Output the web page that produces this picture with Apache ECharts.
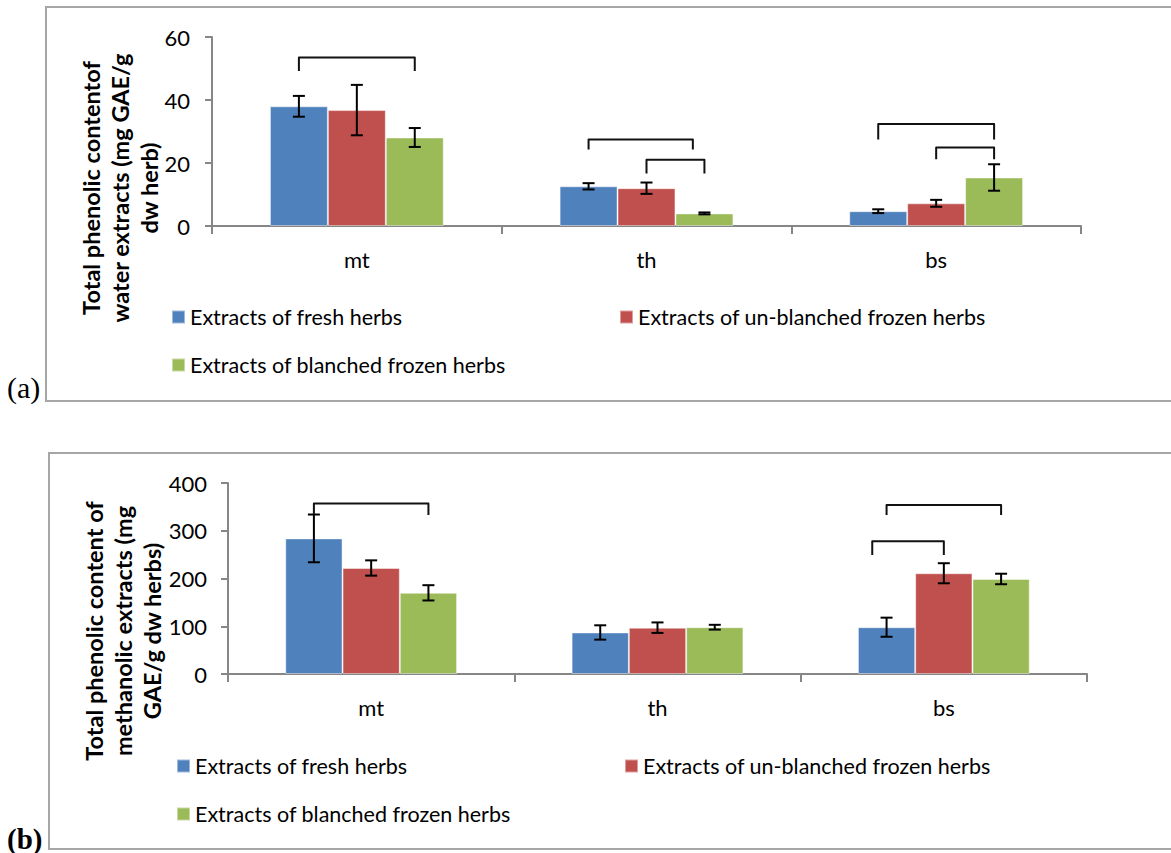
<!DOCTYPE html>
<html><head><meta charset="utf-8">
<script src="https://cdn.jsdelivr.net/npm/echarts@6/dist/echarts.min.js"></script>
<style>html,body{margin:0;padding:0;background:#fff}#c{width:1171px;height:853px}</style>
</head><body><div id="c"></div>
<script>
// ---------- data ----------
const categories = ['mt', 'th', 'bs'];
const seriesNames = ['Extracts of fresh herbs', 'Extracts of un-blanched frozen herbs', 'Extracts of blanched frozen herbs'];
const waterTicks = [0, 20, 40, 60];
const methTicks = [0, 100, 200, 300, 400];

// (a) water extracts
const waterFresh = [38.0, 12.6, 4.7];
const waterUnblanched = [36.8, 12.0, 7.2];
const waterBlanched = [28.1, 4.0, 15.4];
const waterFreshErr = [3.3, 1.0, 0.6];
const waterUnblanchedErr = [8.0, 1.8, 1.1];
const waterBlanchedErr = [3.0, 0.3, 4.2];
// significance brackets: [category, from slot, to slot, top value, left leg end, right leg end]
const waterBrackets = [[0, 0, 2, 53.5, 49.2, 49.2], [1, 0, 1.8, 27.5, 24.3, 24.3], [1, 1, 2, 21.0, 16.7, 16.7], [2, 0, 2, 32.4, 27.5, 27.5], [2, 1, 2, 24.9, 21.2, 21.2]];

// (b) methanolic extracts
const methFresh = [284, 87, 98];
const methUnblanched = [222, 97, 211];
const methBlanched = [170, 98, 199];
const methFreshErr = [50, 15, 20];
const methUnblanchedErr = [16, 11, 21];
const methBlanchedErr = [16, 5, 11];
const methBrackets = [[0, 0, 2, 357, 335, 333], [2, 0, 2, 354, 333, 333], [2, -0.25, 1, 278, 249, 249]];

// ---------- chart ----------
const colors = ['#4F81BD', '#C0504D', '#9BBB59'];
const FONT = 'Lato, "Open Sans", sans-serif';
const SLOTS = 3, CATGAP = 0.4;

function slotX(api, cat, slot) {
  const c = api.coord([cat, 0])[0];
  const band = api.coord([1, 0])[0] - api.coord([0, 0])[0];
  const bw = band * (1 - CATGAP) / SLOTS;
  return c + (slot - (SLOTS - 1) / 2) * bw;
}
function errRender(params, api) {
  const x = slotX(api, api.value(0), api.value(1));
  const y1 = api.coord([api.value(0), api.value(2)])[1];
  const y2 = api.coord([api.value(0), api.value(3)])[1];
  const st = { stroke: '#000', lineWidth: 2 };
  return { type: 'group', children: [
    { type: 'line', shape: { x1: x, y1: y1, x2: x, y2: y2 }, style: st },
    { type: 'line', shape: { x1: x - 6, y1: y1, x2: x + 6, y2: y1 }, style: st },
    { type: 'line', shape: { x1: x - 6, y1: y2, x2: x + 6, y2: y2 }, style: st }
  ] };
}
function bracketRender(params, api) {
  const cat = api.value(0);
  const x1 = slotX(api, cat, api.value(1)), x2 = slotX(api, cat, api.value(2));
  const yt = api.coord([cat, api.value(3)])[1];
  const yl = api.coord([cat, api.value(4)])[1];
  const yr = api.coord([cat, api.value(5)])[1];
  return { type: 'polyline', shape: { points: [[x1, yl], [x1, yt], [x2, yt], [x2, yr]] },
    style: { stroke: '#111', lineWidth: 2, fill: null, lineJoin: 'round' } };
}
function errData(vals, errs) {
  const out = [];
  vals.forEach((arr, s) => arr.forEach((v, i) => out.push([i, s, v - errs[s][i], v + errs[s][i]])));
  return out;
}

const panels = [
  { vals: [waterFresh, waterUnblanched, waterBlanched], errs: [waterFreshErr, waterUnblanchedErr, waterBlanchedErr], brackets: waterBrackets, ticks: waterTicks, ym: 22 },
  { vals: [methFresh, methUnblanched, methBlanched], errs: [methFreshErr, methUnblanchedErr, methBlanchedErr], brackets: methBrackets, ticks: methTicks, ym: 21 }
];

const grids = [
  { left: 212, top: 37, width: 869, height: 189 },
  { left: 228, top: 483, width: 859, height: 191 }
];
const xAxes = [], yAxes = [], series = [];
panels.forEach((p, k) => {
  xAxes.push({ type: 'category', gridIndex: k, data: categories,
    axisLine: { lineStyle: { color: '#868686', width: 2 } },
    axisTick: { show: true, length: 8, lineStyle: { color: '#868686', width: 2 } },
    axisLabel: { color: '#000', fontSize: 22, fontFamily: FONT, margin: 22 } });
  const t = p.ticks;
  yAxes.push({ type: 'value', gridIndex: k, min: t[0], max: t[t.length - 1], interval: t[1] - t[0],
    splitLine: { show: false },
    axisLine: { show: true, lineStyle: { color: '#868686', width: 2 } },
    axisTick: { show: true, length: 7, lineStyle: { color: '#868686', width: 2 } },
    axisLabel: { color: '#000', fontSize: 22, fontFamily: FONT, margin: p.ym } });
  p.vals.forEach((v, s) => series.push({ type: 'bar', name: seriesNames[s], xAxisIndex: k, yAxisIndex: k,
    data: v, barGap: '0%', barCategoryGap: (CATGAP * 100) + '%',
    itemStyle: { color: colors[s], borderColor: 'rgba(255,255,255,0.45)', borderWidth: 1 }, z: 2 }));
  series.push({ type: 'custom', xAxisIndex: k, yAxisIndex: k, renderItem: errRender,
    data: errData(p.vals, p.errs), encode: { x: 0, y: [2, 3] }, z: 5, silent: true });
  series.push({ type: 'custom', xAxisIndex: k, yAxisIndex: k, renderItem: bracketRender,
    data: p.brackets, encode: { x: 0, y: [3, 4, 5] }, z: 5, silent: true });
});

const legendStyle = { fontSize: 21.5, fontFamily: FONT, color: '#000', lineHeight: 24 };
function lg(name, left, cy) {
  return { data: [name], left: left, top: cy - 12, padding: 0, itemWidth: 13, itemHeight: 13, icon: 'rect',
    itemGap: 0, textStyle: legendStyle, selectedMode: false };
}
const legends = [
  lg(seriesNames[0], 171, 317), lg(seriesNames[1], 619, 317), lg(seriesNames[2], 171, 365),
  lg(seriesNames[0], 176, 766), lg(seriesNames[1], 624, 766), lg(seriesNames[2], 176, 814)
];

const titleStyle = { fill: '#000', font: 'bold 23.5px Lato, sans-serif', align: 'center', verticalAlign: 'middle', lineHeight: 29 };
const option = {
  animation: false,
  grid: grids, xAxis: xAxes, yAxis: yAxes, series: series, legend: legends,
  graphic: [
    { type: 'rect', shape: { x: 46, y: 7, width: 1200, height: 394 }, style: { fill: null, stroke: '#a6a6a6', lineWidth: 2 }, silent: true },
    { type: 'rect', shape: { x: 49, y: 453, width: 1200, height: 396 }, style: { fill: null, stroke: '#a6a6a6', lineWidth: 2 }, silent: true },
    { type: 'text', x: 120, y: 188, rotation: Math.PI / 2,
      style: Object.assign({ text: 'Total phenolic contentof\nwater extracts (mg GAE/g\ndw herb)' }, titleStyle) },
    { type: 'text', x: 123, y: 631, rotation: Math.PI / 2,
      style: Object.assign({ text: 'Total phenolic content of\nmethanolic extracts (mg\nGAE/g dw herbs)' }, titleStyle) },
    { type: 'text', left: 7, top: 372, style: { text: '(a)', fill: '#000', font: '30px "Liberation Serif", serif' } },
    { type: 'text', left: 7, top: 824, style: { text: '(b)', fill: '#000', font: 'bold 29px "Liberation Serif", serif' } }
  ]
};
const chart = echarts.init(document.getElementById('c'), null, { renderer: 'svg' });
chart.setOption(option);
</script></body></html>
